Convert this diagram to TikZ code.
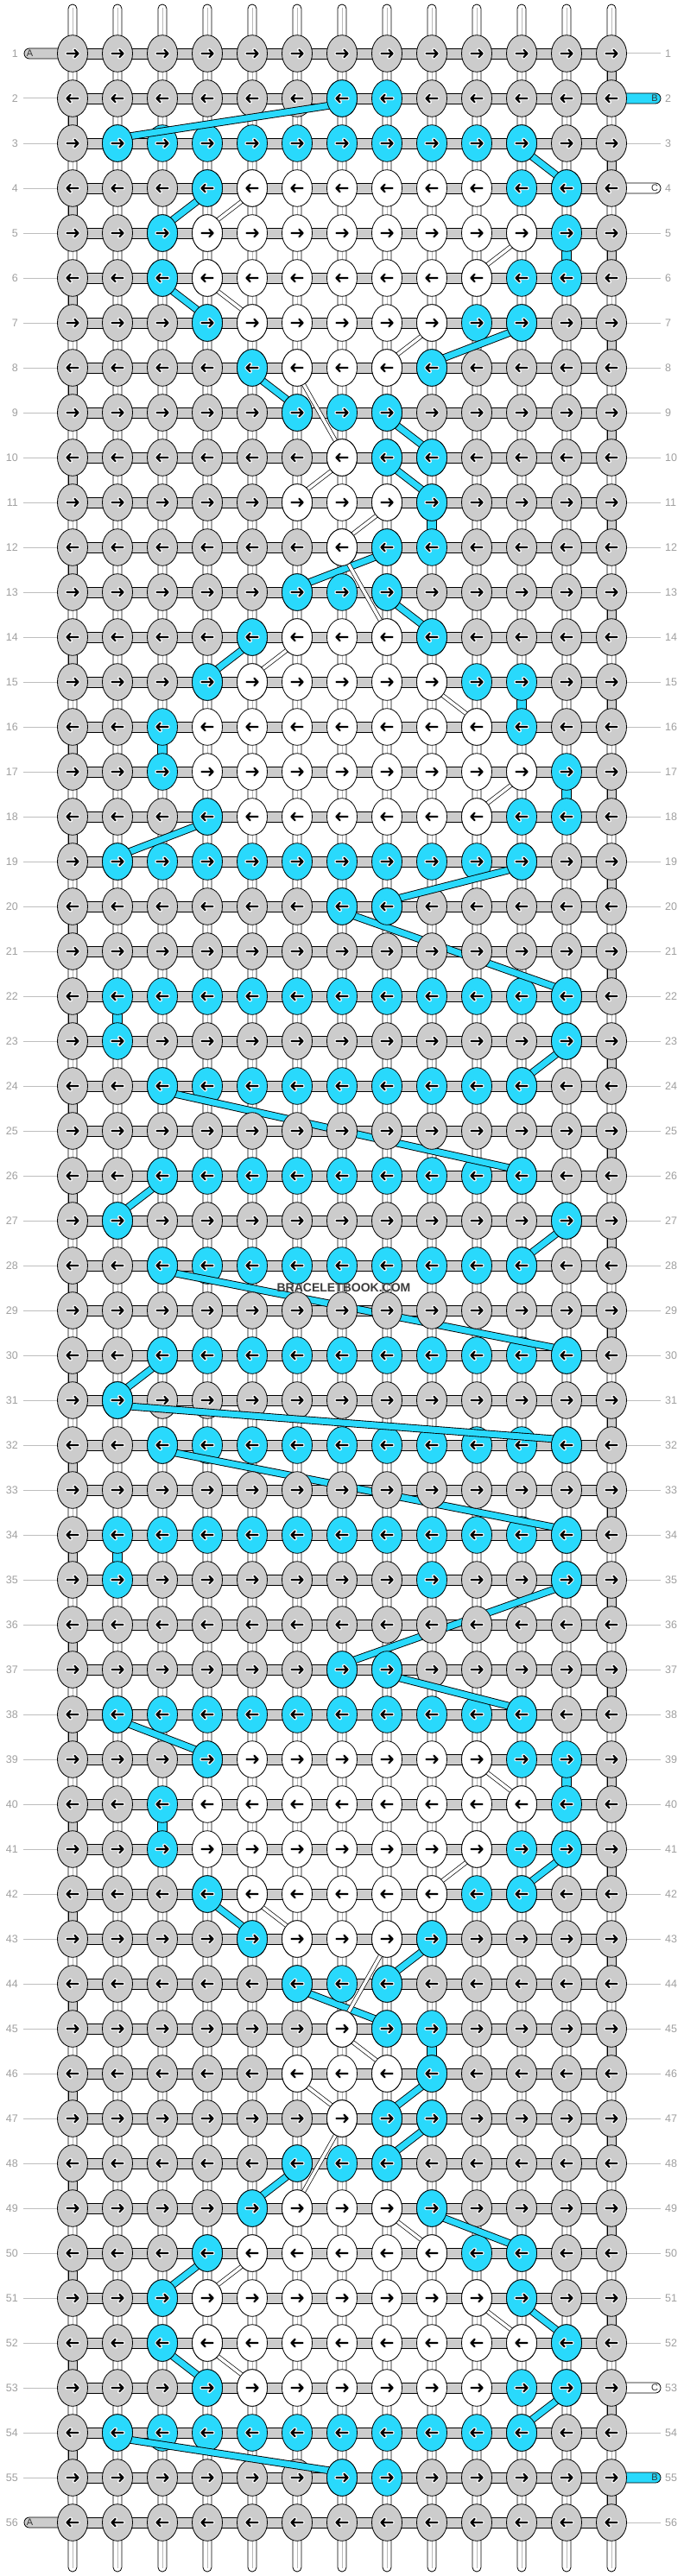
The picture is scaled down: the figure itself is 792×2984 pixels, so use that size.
\documentclass[tikz,border=0pt]{standalone}
\usepackage{fontspec}
\setmainfont{Liberation Sans}
\usetikzlibrary{calc,shapes.geometric}
\definecolor{G}{RGB}{204,204,204}
\definecolor{B}{RGB}{41,217,252}
\definecolor{W}{RGB}{255,255,255}
\definecolor{numgray}{RGB}{160,160,160}
\definecolor{guidegray}{RGB}{190,190,190}
\definecolor{coregray}{RGB}{185,185,185}
\definecolor{wmark}{RGB}{60,60,60}

\def\rowsmain{%
1/{G,G,G,G,G,G,G,G,G,G,G,G,G},
2/{G,G,G,G,G,G,B,B,G,G,G,G,G},
3/{G,B,B,B,B,B,B,B,B,B,B,G,G},
4/{G,G,G,B,W,W,W,W,W,W,B,B,G},
5/{G,G,B,W,W,W,W,W,W,W,W,B,G},
6/{G,G,B,W,W,W,W,W,W,W,B,B,G},
7/{G,G,G,B,W,W,W,W,W,B,B,G,G},
8/{G,G,G,G,B,W,W,W,B,G,G,G,G},
10/{G,G,G,G,G,G,W,B,B,G,G,G,G},
11/{G,G,G,G,G,W,W,W,B,G,G,G,G},
12/{G,G,G,G,G,G,W,B,B,G,G,G,G},
14/{G,G,G,G,B,W,W,W,B,G,G,G,G},
15/{G,G,G,B,W,W,W,W,W,B,B,G,G},
16/{G,G,B,W,W,W,W,W,W,W,B,G,G},
17/{G,G,B,W,W,W,W,W,W,W,W,B,G},
18/{G,G,G,B,W,W,W,W,W,W,B,B,G},
19/{G,B,B,B,B,B,B,B,B,B,B,G,G},
20/{G,G,G,G,G,G,B,B,G,G,G,G,G},
22/{G,B,B,B,B,B,B,B,B,B,B,B,G},
23/{G,B,G,G,G,G,G,G,G,G,G,B,G},
24/{G,G,B,B,B,B,B,B,B,B,B,G,G},
26/{G,G,B,B,B,B,B,B,B,B,B,G,G},
27/{G,B,G,G,G,G,G,G,G,G,G,B,G},
28/{G,G,B,B,B,B,B,B,B,B,B,G,G},
30/{G,G,B,B,B,B,B,B,B,B,B,B,G},
31/{G,B,G,G,G,G,G,G,G,G,G,G,G},
32/{G,G,B,B,B,B,B,B,B,B,B,B,G},
34/{G,B,B,B,B,B,B,B,B,B,B,B,G},
35/{G,B,G,G,G,G,G,G,B,G,G,B,G},
37/{G,G,G,G,G,G,B,B,G,G,G,G,G},
38/{G,B,B,B,B,B,B,B,B,B,B,G,G},
39/{G,G,G,B,W,W,W,W,W,W,B,B,G},
40/{G,G,B,W,W,W,W,W,W,W,W,B,G},
41/{G,G,B,W,W,W,W,W,W,W,B,B,G},
42/{G,G,G,B,W,W,W,W,W,B,B,G,G},
43/{G,G,G,G,B,W,W,W,B,G,G,G,G},
45/{G,G,G,G,G,G,W,B,B,G,G,G,G},
46/{G,G,G,G,G,W,W,W,B,G,G,G,G},
47/{G,G,G,G,G,G,W,B,B,G,G,G,G},
49/{G,G,G,G,B,W,W,W,B,G,G,G,G},
50/{G,G,G,B,W,W,W,W,W,B,B,G,G},
51/{G,G,B,W,W,W,W,W,W,W,B,G,G},
52/{G,G,B,W,W,W,W,W,W,W,W,B,G},
53/{G,G,G,B,W,W,W,W,W,W,B,B,G},
54/{G,B,B,B,B,B,B,B,B,B,B,G,G},
55/{G,G,G,G,G,G,B,B,G,G,G,G,G},
56/{G,G,G,G,G,G,G,G,G,G,G,G,G}}

\def\rowsmid{%
9/{G,G,G,G,G,B,B,B,G,G,G,G,G},
13/{G,G,G,G,G,B,B,B,G,G,G,G,G},
21/{G,G,G,G,G,G,G,G,G,G,G,G,G},
25/{G,G,G,G,G,G,G,G,G,G,G,G,G},
29/{G,G,G,G,G,G,G,G,G,G,G,G,G},
33/{G,G,G,G,G,G,G,G,G,G,G,G,G},
36/{G,G,G,G,G,G,G,G,G,G,G,G,G},
44/{G,G,G,G,G,B,B,B,G,G,G,G,G},
48/{G,G,G,G,G,B,B,B,G,G,G,G,G}}

\def\bandsB{2/7/3/2, 3/11/4/12, 4/4/5/3, 6/3/7/4, 7/11/8/9, 8/5/9/6, 9/8/10/9,
10/8/11/9, 12/8/13/6, 13/8/14/9, 14/5/15/4, 18/4/19/2, 19/11/20/8, 20/7/22/12,
23/12/24/11, 24/3/26/11, 26/3/27/2, 27/12/28/11, 28/3/30/12, 30/3/31/2,
31/2/32/12, 32/3/34/12, 35/12/37/7, 37/8/38/11, 38/2/39/4, 41/12/42/11,
42/4/43/5, 43/9/44/8, 44/6/45/8, 46/9/47/8, 47/9/48/8, 48/6/49/5, 49/9/50/11,
50/4/51/3, 51/11/52/12, 52/3/53/4, 53/12/54/11, 54/2/55/7}

\def\bandsC{4/5/5/4, 5/11/6/10, 6/4/7/5, 7/9/8/8, 8/6/10/7, 10/7/11/6, 11/8/12/7,
12/7/14/8, 14/6/15/5, 15/9/16/10, 17/11/18/10, 39/10/40/11, 41/10/42/9,
42/5/43/6, 43/8/45/7, 45/7/46/8, 46/6/47/7, 47/7/49/6, 49/8/50/9, 50/5/51/4,
51/10/52/11, 52/4/53/5}

\newcommand\knotat[3]{%
  \node[knot,fill=#3] (k-#1-#2) at (p-#1-#2) {};%
  \ifodd#1\relax\pic at (p-#1-#2) {rarr};\else\pic at (p-#1-#2) {larr};\fi}

\begin{document}
\begin{tikzpicture}[x=1pt,y=-1pt,
  knot/.style={ellipse,minimum width=35pt,minimum height=42.6pt,inner sep=0pt,draw=black,line width=0.8pt},
  arrhalo/.style={white,line width=4.4pt,line cap=round,line join=round},
  arrcore/.style={black,line width=2.2pt,line cap=round,line join=round},
  rarr/.pic={\draw[arrhalo] (-6.5,0)--(6.5,0) (2.3,-4.3)--(6.5,0)--(2.3,4.3);
             \draw[arrcore] (-6.5,0)--(6.5,0) (2.3,-4.3)--(6.5,0)--(2.3,4.3);},
  larr/.pic={\draw[arrhalo] (6.5,0)--(-6.5,0) (-2.3,-4.3)--(-6.5,0)--(-2.3,4.3);
             \draw[arrcore] (6.5,0)--(-6.5,0) (-2.3,-4.3)--(-6.5,0)--(-2.3,4.3);},
  strand/.style={draw=black,fill=white,line width=0.8pt,rounded corners=5pt},
  core/.style={coregray,line width=1pt},
  edgebox/.style={draw=black,fill=G,line width=0.8pt},
  bvert/.style={draw=black,fill=B,line width=0.8pt},
  hbar/.style={draw=black,fill=G,line width=0.8pt},
  lbar/.style={draw=black,line width=0.8pt,rounded corners=6pt},
  guide/.style={guidegray,line width=1pt},
  numlab/.style={inner sep=0pt,text=numgray,font=\fontsize{12.5}{13}\selectfont},
  lettr/.style={inner sep=0pt,text=black!80,font=\fontsize{11}{11}\selectfont},
  bandB/.style={draw=black,line width=0.9pt,double=B,double distance=7pt},
  bandC/.style={draw=black,line width=0.7pt,double=white,double distance=3.6pt}]
\useasboundingbox[fill=white] (0,0) rectangle (792,2984);
% grid positions
\foreach \r in {1,...,56}{\foreach \cc in {1,...,13}{%
  \coordinate (p-\r-\cc) at ({84+52*(\cc-1)},{62+52*(\r-1)});}}
% vertical strings
\foreach \cc in {1,...,13}{%
  \draw[strand] ($(p-1-\cc)+(-5,-57)$) rectangle ($(p-56-\cc)+(5,57)$);
  \draw[core] ($(p-1-\cc)+(0,-53)$) -- ($(p-56-\cc)+(0,53)$);}
% turns of the working string at the edges
\foreach \r [evaluate=\r as \rn using int(\r+1)] in {2,4,...,54}{%
  \draw[edgebox] ($(p-\r-1)+(-5,0)$) rectangle ($(p-\rn-1)+(5,0)$);}
\foreach \r [evaluate=\r as \rn using int(\r+1)] in {1,3,...,55}{%
  \draw[edgebox] ($(p-\r-13)+(-5,0)$) rectangle ($(p-\rn-13)+(5,0)$);}
% cyan string going straight down
\foreach \r/\cc [evaluate=\r as \rn using int(\r+1)] in {5/12,11/9,15/11,16/3,17/12,22/2,34/2,39/12,40/3,45/9}{%
  \draw[bvert] ($(p-\r-\cc)+(-5.5,0)$) rectangle ($(p-\rn-\cc)+(5.5,0)$);}
% horizontal bars, row numbers
\foreach \r in {1,...,56}{%
  \draw[hbar] ($(p-\r-1)+(0,-6)$) rectangle ($(p-\r-13)+(0,6)$);
  \node[numlab,anchor=east] (nl-\r) at ($(p-\r-1)+(-63,0)$) {\r};
  \node[numlab,anchor=west] (nr-\r) at ($(p-\r-13)+(62,0)$) {\r};}
\foreach \r in {2,...,55}{\draw[guide] ($(p-\r-1)+(-57,0)$) -- ($(p-\r-1)+(-17,0)$);}
\foreach \r in {1,3,5,6,...,52,54,56}{\draw[guide] ($(p-\r-13)+(17,0)$) -- ($(p-\r-13)+(57,0)$);}
% string ends with letters
\foreach \r in {1,56}{%
  \draw[lbar,fill=G] ($(p-\r-1)+(-56,-6)$) rectangle ($(p-\r-1)+(-4,6)$);
  \node[lettr] (la-\r) at ($(p-\r-1)+(-49.5,0)$) {A};}
\foreach \r/\col/\txt in {2/B/B,55/B/B,4/W/C,53/W/C}{%
  \draw[lbar,fill=\col] ($(p-\r-13)+(4,-6)$) rectangle ($(p-\r-13)+(57,6)$);
  \node[lettr] (lr-\r) at ($(p-\r-13)+(50,0)$) {\txt};}
% knots
\foreach \r/\cols in \rowsmain{\foreach \kk [count=\cc] in \cols{\knotat{\r}{\cc}{\kk}}}
% carried strings
\foreach \ra/\ca/\rb/\cb in \bandsB{\draw[bandB] ($(p-\ra-\ca)+(0,6)$) -- ($(p-\rb-\cb)+(0,-6)$);}
\foreach \ra/\ca/\rb/\cb in \bandsC{\draw[bandC] ($(p-\ra-\ca)+(0,6)$) -- ($(p-\rb-\cb)+(0,-6)$);}
\foreach \r/\cols in \rowsmid{\foreach \kk [count=\cc] in \cols{\knotat{\r}{\cc}{\kk}}}
\foreach \ra/\ca/\rb/\cb in \bandsB{\knotat{\ra}{\ca}{B}\knotat{\rb}{\cb}{B}}
\foreach \ra/\ca/\rb/\cb in \bandsC{\knotat{\ra}{\ca}{W}\knotat{\rb}{\cb}{W}}
% watermark
\node[inner sep=0pt,text=wmark,font=\bfseries\fontsize{14}{14}\selectfont] (wm) at (398,1491.5) {BRACELETBOOK.COM};
\end{tikzpicture}
\end{document}
